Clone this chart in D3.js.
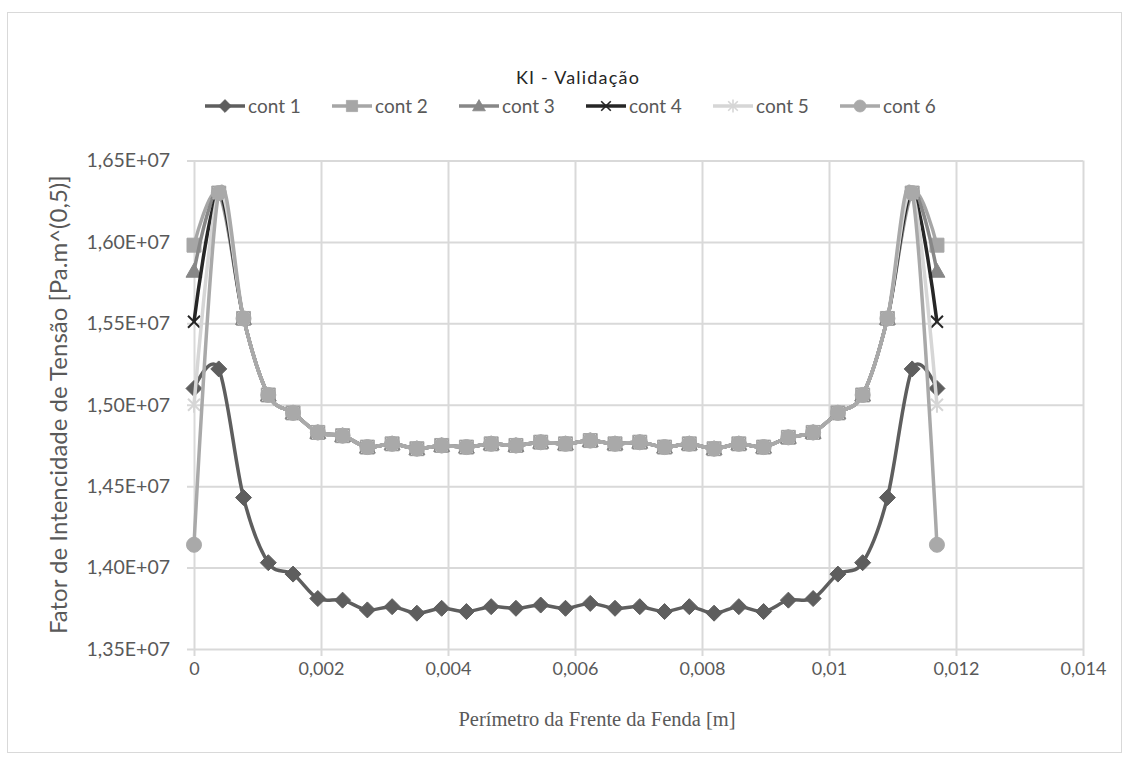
<!DOCTYPE html>
<html lang="pt">
<head>
  <meta charset="UTF-8">
  <title>KI - Validação</title>
  <style>
    * {
      box-sizing: border-box;
      margin: 0;
    }
    body {
      background: #fff;
      width: 1129px;
      height: 760px;
      overflow: hidden;
    }
    svg text {
      font-family: Lato, "Open Sans", sans-serif;
    }
  </style>
</head>
<body>
  <svg></svg>
  <script src="https://d3js.org/d3.v7.min.js"></script>
  <script>
    // positions along the crack front (31 points, step 0.00039 m)
    const perimeter = [
      0, 0.00039, 0.00078, 0.00117, 0.00156, 0.00195, 0.00234, 0.00273, 0.00312, 0.00351,
      0.0039, 0.00429, 0.00468, 0.00507, 0.00546, 0.00585, 0.00624, 0.00663, 0.00702, 0.00741,
      0.0078, 0.00819, 0.00858, 0.00897, 0.00936, 0.00975, 0.01014, 0.01053, 0.01092, 0.01131, 0.0117
    ];

    // KI values in 1e6 Pa.m^0.5
    const cont1 = [
      15.10, 15.22, 14.43, 14.03, 13.96, 13.81, 13.80, 13.74, 13.76, 13.72,
      13.75, 13.73, 13.76, 13.75, 13.77, 13.75, 13.78, 13.75, 13.76, 13.73,
      13.76, 13.72, 13.76, 13.73, 13.80, 13.81, 13.96, 14.03, 14.43, 15.22, 15.10
    ];
    const cont2 = [
      15.98, 16.30, 15.53, 15.06, 14.95, 14.83, 14.81, 14.74, 14.76, 14.73,
      14.75, 14.74, 14.76, 14.75, 14.77, 14.76, 14.78, 14.76, 14.77, 14.74,
      14.76, 14.73, 14.76, 14.74, 14.80, 14.83, 14.95, 15.06, 15.53, 16.30, 15.98
    ];
    const cont3 = [
      15.82, 16.30, 15.53, 15.06, 14.95, 14.83, 14.81, 14.74, 14.76, 14.73,
      14.75, 14.74, 14.76, 14.75, 14.77, 14.76, 14.78, 14.76, 14.77, 14.74,
      14.76, 14.73, 14.76, 14.74, 14.80, 14.83, 14.95, 15.06, 15.53, 16.30, 15.82
    ];
    const cont4 = [
      15.51, 16.30, 15.53, 15.06, 14.95, 14.83, 14.81, 14.74, 14.76, 14.73,
      14.75, 14.74, 14.76, 14.75, 14.77, 14.76, 14.78, 14.76, 14.77, 14.74,
      14.76, 14.73, 14.76, 14.74, 14.80, 14.83, 14.95, 15.06, 15.53, 16.30, 15.51
    ];
    const cont5 = [
      15.00, 16.30, 15.53, 15.06, 14.95, 14.83, 14.81, 14.74, 14.76, 14.73,
      14.75, 14.74, 14.76, 14.75, 14.77, 14.76, 14.78, 14.76, 14.77, 14.74,
      14.76, 14.73, 14.76, 14.74, 14.80, 14.83, 14.95, 15.06, 15.53, 16.30, 15.00
    ];
    const cont6 = [
      14.14, 16.30, 15.53, 15.06, 14.95, 14.83, 14.81, 14.74, 14.76, 14.73,
      14.75, 14.74, 14.76, 14.75, 14.77, 14.76, 14.78, 14.76, 14.77, 14.74,
      14.76, 14.73, 14.76, 14.74, 14.80, 14.83, 14.95, 15.06, 15.53, 16.30, 14.14
    ];

    const seriesNames = ['cont 1', 'cont 2', 'cont 3', 'cont 4', 'cont 5', 'cont 6'];
    const xTicks = [0, 0.002, 0.004, 0.006, 0.008, 0.01, 0.012, 0.014];
    const xTickLabels = ['0', '0,002', '0,004', '0,006', '0,008', '0,01', '0,012', '0,014'];
    const yTicks = [13.5, 14.0, 14.5, 15.0, 15.5, 16.0, 16.5];
    const yTickLabels = ['1,35E+07', '1,40E+07', '1,45E+07', '1,50E+07', '1,55E+07', '1,60E+07', '1,65E+07'];

    const width = 1129;
    const height = 760;
    const plot = {left: 194, right: 1083, top: 160.5, bottom: 649};

    const styles = [
      {color: '#5e5e5e', marker: 'diamond'},
      {color: '#a6a6a6', marker: 'square'},
      {color: '#878787', marker: 'triangle'},
      {color: '#262626', marker: 'cross'},
      {color: '#d6d6d6', marker: 'star'},
      {color: '#a9a9a9', marker: 'circle'}
    ];

    const series = [cont1, cont2, cont3, cont4, cont5, cont6].map((vals, i) => ({
      name: seriesNames[i],
      style: styles[i],
      points: vals.map((v, j) => ({x: perimeter[j], y: v}))
    }));

    const svg = d3.select('svg')
      .attr('width', width)
      .attr('height', height);

    // chart frame
    svg.append('rect')
      .attr('x', 7.5)
      .attr('y', 12.5)
      .attr('width', 1114)
      .attr('height', 740)
      .attr('fill', '#fff')
      .attr('stroke', '#d9d9d9');

    const xScale = d3.scaleLinear().domain([0, 0.014]).range([plot.left, plot.right]);
    const yScale = d3.scaleLinear().domain([13.5, 16.5]).range([plot.bottom, plot.top]);

    // gridlines with outward ticks, like excel
    const xAxis = svg.append('g')
      .attr('transform', 'translate(0,' + plot.bottom + ')')
      .call(d3.axisBottom(xScale)
        .tickValues(xTicks)
        .tickSizeInner(-(plot.bottom - plot.top))
        .tickSizeOuter(0)
        .tickPadding(13)
        .tickFormat((d, i) => xTickLabels[i]));
    xAxis.select('.domain').remove();
    xAxis.selectAll('line')
      .attr('y1', 7)
      .attr('stroke', '#d9d9d9')
      .attr('stroke-width', 2);
    xAxis.selectAll('text')
      .attr('fill', '#595959')
      .style('font-size', '18px');

    const yAxis = svg.append('g')
      .attr('transform', 'translate(' + plot.left + ',0)')
      .call(d3.axisLeft(yScale)
        .tickValues(yTicks)
        .tickSizeInner(-(plot.right - plot.left))
        .tickSizeOuter(0)
        .tickPadding(24)
        .tickFormat((d, i) => yTickLabels[i]));
    yAxis.select('.domain').remove();
    yAxis.selectAll('line')
      .attr('x1', -7)
      .attr('stroke', '#d9d9d9')
      .attr('stroke-width', 2);
    yAxis.selectAll('text')
      .attr('fill', '#595959')
      .style('font-size', '19.5px');

    function markerPath(shape) {
      switch (shape) {
        case 'diamond': return 'M0,-8L8,0L0,8L-8,0Z';
        case 'square': return 'M-7,-7H7V7H-7Z';
        case 'triangle': return 'M0,-8L8,6H-8Z';
        case 'cross': return 'M-6,-6L6,6M6,-6L-6,6';
        case 'star': return 'M-6,-6L6,6M6,-6L-6,6M0,-8V8';
        case 'circle': return 'M7.5,0A7.5,7.5 0 1,1 -7.5,0A7.5,7.5 0 1,1 7.5,0Z';
      }
    }

    function drawMarker(g, style) {
      const open = style.marker === 'cross' || style.marker === 'star';
      g.append('path')
        .attr('d', markerPath(style.marker))
        .attr('fill', open ? 'none' : style.color)
        .attr('stroke', style.color)
        .attr('stroke-width', open ? 2 : 1);
    }

    const line = d3.line()
      .x(d => xScale(d.x))
      .y(d => yScale(d.y))
      .curve(d3.curveCardinal.tension(0));

    const main = svg.append('g').attr('class', 'main');

    series.forEach(s => {
      const g = main.append('g').attr('class', 'series');
      g.append('path')
        .datum(s.points)
        .attr('d', line)
        .attr('fill', 'none')
        .attr('stroke', s.style.color)
        .attr('stroke-width', 3.5)
        .attr('stroke-linejoin', 'round');

      g.selectAll('.marker')
        .data(s.points)
        .enter()
        .append('g')
        .attr('class', 'marker')
        .attr('transform', d => 'translate(' + xScale(d.x) + ',' + yScale(d.y) + ')')
        .each(function() { drawMarker(d3.select(this), s.style); });
    });

    // title
    svg.append('text')
      .attr('x', 578)
      .attr('y', 84)
      .attr('text-anchor', 'middle')
      .attr('fill', '#262626')
      .style('font-size', '18px')
      .style('letter-spacing', '1.2px')
      .text('KI - Validação');

    // legend
    const legend = svg.append('g').attr('class', 'legend');
    const legendItems = legend.selectAll('.legend-item')
      .data(series)
      .enter()
      .append('g')
      .attr('class', 'legend-item')
      .attr('transform', (d, i) => 'translate(' + (205 + i * 127) + ',106)');

    legendItems.append('line')
      .attr('x1', 0)
      .attr('x2', 40)
      .attr('stroke', d => d.style.color)
      .attr('stroke-width', 3.5);

    legendItems.append('g')
      .attr('transform', 'translate(20,0) scale(0.8)')
      .each(function(d) { drawMarker(d3.select(this), d.style); });

    legendItems.append('text')
      .attr('x', 43)
      .attr('y', 6.5)
      .attr('fill', '#595959')
      .style('font-size', '19px')
      .text(d => d.name);

    // axis titles
    svg.append('text')
      .attr('transform', 'translate(67,' + ((plot.top + plot.bottom) / 2) + ') rotate(-90)')
      .attr('text-anchor', 'middle')
      .attr('fill', '#595959')
      .style('font-size', '24px')
      .text('Fator de Intencidade de Tensão [Pa.m^(0,5)]');

    svg.append('text')
      .attr('x', 597)
      .attr('y', 726)
      .attr('text-anchor', 'middle')
      .attr('fill', '#595959')
      .style('font-family', '"Liberation Serif", serif')
      .style('font-size', '20.5px')
      .text('Perímetro da Frente da Fenda [m]');
  </script>
</body>
</html>
